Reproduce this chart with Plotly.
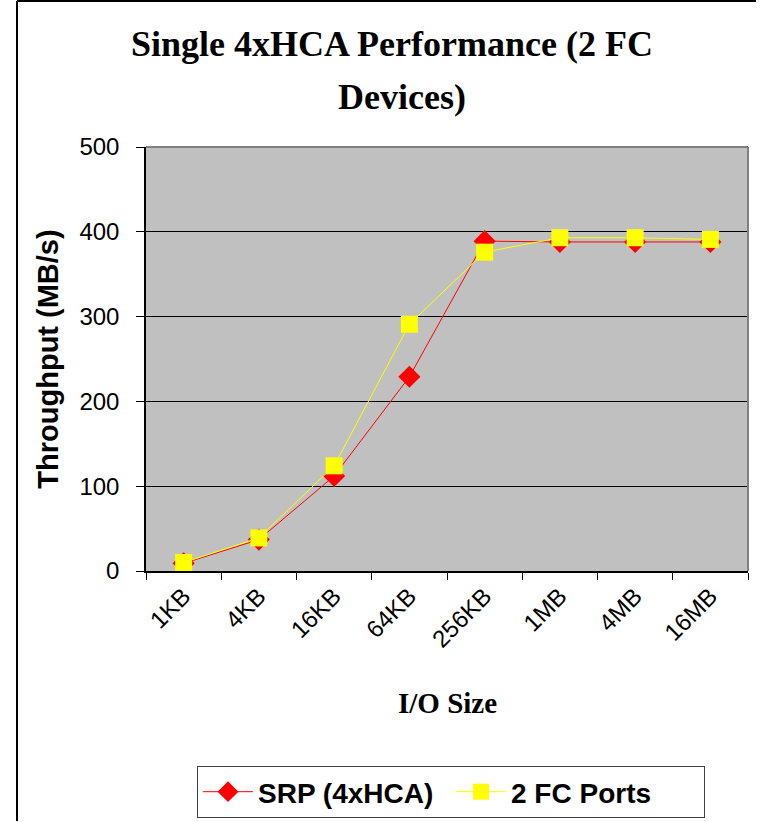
import plotly.graph_objects as go

categories = ["1KB", "4KB", "16KB", "64KB", "256KB", "1MB", "4MB", "16MB"]
srp_values = [9, 37, 112, 229, 389, 388, 388, 388]
fc_values = [10, 39, 124, 291, 376, 393, 393, 391]
y_ticks = [0, 100, 200, 300, 400, 500]

W, H = 761, 822
L, R, T, B = 146, 13, 147, 251
pw, ph = W - L - R, H - T - B

def px(x):
    return (x - L) / pw

def py(y):
    return (H - B - y) / ph

fig = go.Figure()
fig.add_trace(go.Scatter(
    x=categories, y=srp_values, name="SRP (4xHCA)", mode="lines+markers",
    line=dict(color="#FF0000", width=1),
    marker=dict(symbol="diamond", size=17, color="#FF0000"),
))
fig.add_trace(go.Scatter(
    x=categories, y=fc_values, name="2 FC Ports", mode="lines+markers",
    line=dict(color="#FFFF00", width=1),
    marker=dict(symbol="square", size=17, color="#FFFF00"),
))

fig.update_layout(
    width=W, height=H,
    margin=dict(l=L, r=R, t=T, b=B, autoexpand=False),
    paper_bgcolor="white",
    plot_bgcolor="#C0C0C0",
    showlegend=True,
    legend=dict(
        orientation="h", x=px(197), y=py(766), xanchor="left", yanchor="top",
        bordercolor="#404040", borderwidth=1, bgcolor="white",
        font=dict(family="Liberation Sans", size=28, color="black", weight="bold"),
        itemwidth=50, tracegroupgap=0, entrywidth=188,
    ),
    xaxis=dict(
        type="category", categoryorder="array", categoryarray=categories,
        range=[-0.5, 7.5], automargin=False,
        tickson="boundaries", ticks="outside", ticklen=7, tickcolor="black",
        showline=True, linecolor="black", linewidth=1.5,
        showgrid=False, tickangle=-45, ticklabelstandoff=0,
        tickfont=dict(family="Liberation Sans", size=24, color="black"),
    ),
    yaxis=dict(
        range=[0, 500], tickvals=y_ticks, ticks="outside", ticklen=8,
        automargin=False,
        tickcolor="black", showline=True, linecolor="black", linewidth=1.5,
        showgrid=True, gridcolor="black", gridwidth=1,
        tickfont=dict(family="Liberation Sans", size=24, color="black"),
        ticklabelstandoff=12,
        title=dict(text="Throughput (MB/s)", standoff=12,
                   font=dict(family="Liberation Sans", size=29, color="black", weight="bold")),
        zeroline=False,
    ),
    shapes=[
        dict(type="line", xref="paper", yref="paper", x0=0, x1=1, y0=1, y1=1,
             line=dict(color="#808080", width=2)),
        dict(type="line", xref="paper", yref="paper", x0=1, x1=1, y0=0, y1=1,
             line=dict(color="#808080", width=2)),
        dict(type="line", xref="paper", yref="paper", x0=px(17), x1=px(17), y0=py(1), y1=py(821),
             line=dict(color="black", width=2)),
        dict(type="line", xref="paper", yref="paper", x0=px(17), x1=px(756), y0=py(1), y1=py(1),
             line=dict(color="black", width=2)),
    ],
    annotations=[
        dict(text="Single 4xHCA Performance (2 FC", xref="paper", yref="paper",
             x=px(392), y=py(44), xanchor="center", yanchor="middle", showarrow=False,
             font=dict(family="Liberation Serif", size=36, color="black", weight="bold")),
        dict(text="Devices)", xref="paper", yref="paper",
             x=px(402), y=py(97), xanchor="center", yanchor="middle", showarrow=False,
             font=dict(family="Liberation Serif", size=36, color="black", weight="bold")),
        dict(text="I/O Size", xref="paper", yref="paper",
             x=px(447), y=py(703), xanchor="center", yanchor="middle", showarrow=False,
             font=dict(family="Liberation Serif", size=29, color="black", weight="bold")),
    ],
)

fig.write_html("out.html")
